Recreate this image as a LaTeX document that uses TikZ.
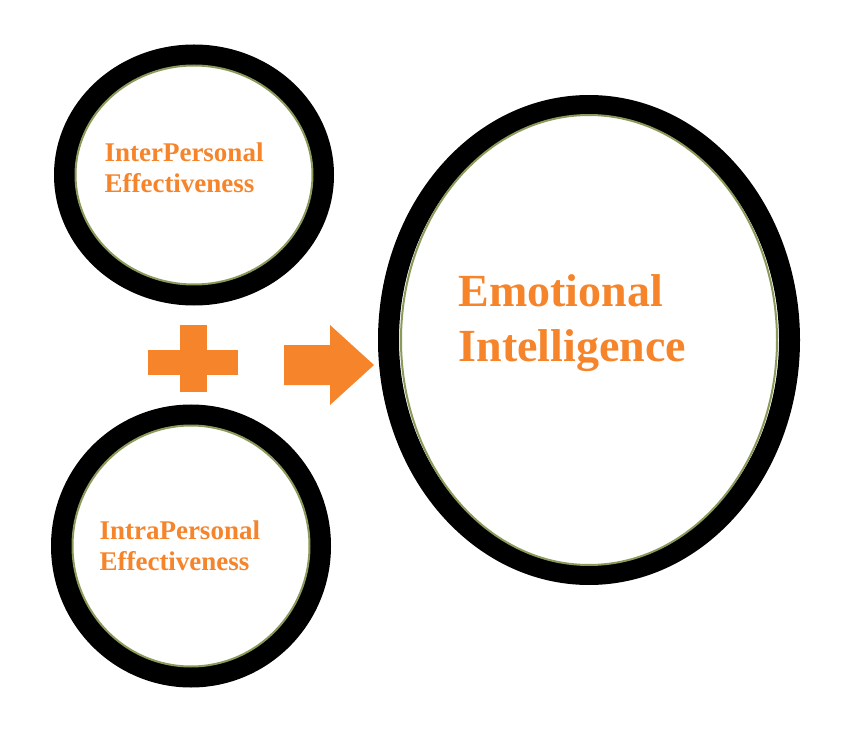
\documentclass[tikz,border=0pt]{standalone}
\usepackage{fontspec}
\setmainfont{Liberation Serif}
\definecolor{eiorange}{HTML}{F5842A}
\definecolor{eigreen}{HTML}{8A9A5B}
\begin{document}
\begin{tikzpicture}[x=1pt,y=-1pt,
                    ring/.style={draw=black,line width=21pt},
                    rim/.style={draw=eigreen,line width=2pt,fill=white},
                    small/.style={text=eiorange,font=\bfseries\fontsize{27}{31}\selectfont,align=left},
                    big/.style={text=eiorange,font=\bfseries\fontsize{46}{55}\selectfont,align=left}
                    ]
    \useasboundingbox (0,0) rectangle (844,754);
    %InterPersonal
    \draw [ring] (194,175) ellipse [x radius=129.5,y radius=120];
    \draw [rim] (194,175) ellipse [x radius=118.5,y radius=109.5];
    \node [small,anchor=west] (inter) at (101,168) {InterPersonal\\Effectiveness};
    %IntraPersonal
    \draw [ring] (191,546) ellipse [x radius=129.5,y radius=131];
    \draw [rim] (191,546) ellipse [x radius=118.5,y radius=120.5];
    \node [small,anchor=west] (intra) at (96,546) {IntraPersonal\\Effectiveness};
    %Emotional Intelligence
    \draw [ring] (589,340) ellipse [x radius=200.5,y radius=234.5];
    \draw [rim] (589,340) ellipse [x radius=188,y radius=225];
    \node [big,anchor=west] (ei) at (455,323) {Emotional\\Intelligence};
    %plus and arrow
    \fill [eiorange] (148,350) rectangle (238,375);
    \fill [eiorange] (180,325) rectangle (207,392);
    \fill [eiorange] (284,345) -- (330,345) -- (330,325) -- (374,365)
                     -- (330,405) -- (330,385) -- (284,385) -- cycle;
\end{tikzpicture}
\end{document}
